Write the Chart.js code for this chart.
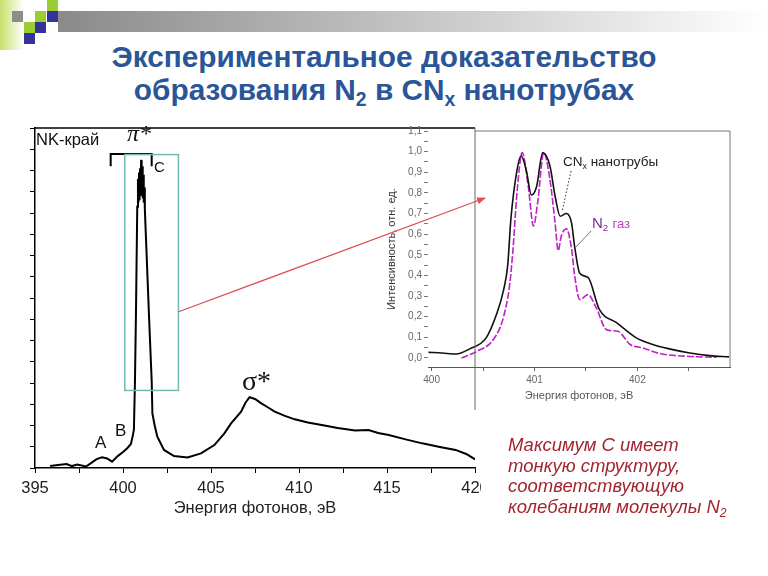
<!DOCTYPE html>
<html>
<head>
<meta charset="utf-8">
<script src="https://cdn.jsdelivr.net/npm/chart.js@4.4.1/dist/chart.umd.min.js"></script>
<style>
body { margin: 0; width: 768px; height: 576px; position: relative; overflow: hidden; background: #fff; font-family: "Liberation Sans", Arial, sans-serif; }
.abs { position: absolute; }
.lbl { position: absolute; line-height: 1; white-space: nowrap; color: #111; }
sub { font-size: 65%; line-height: 0; vertical-align: -0.3em; }
.sq { position: absolute; width: 11px; height: 11px; }
</style>
</head>
<body>

<!-- slide decoration -->
<div class="abs" style="left:0;top:0;width:24px;height:50px;background:linear-gradient(to right,#c6e06a,rgba(255,255,255,0));"></div>
<div class="abs" style="left:58px;top:11px;width:710px;height:21px;background:linear-gradient(to right,#8a8a8a,#ffffff);"></div>
<div class="sq" style="left:47px;top:0;background:#9acd32;"></div>
<div class="sq" style="left:12px;top:11px;background:#8c8c8c;"></div>
<div class="sq" style="left:35px;top:11px;background:#9acd32;"></div>
<div class="sq" style="left:47px;top:11px;background:#333399;"></div>
<div class="sq" style="left:24px;top:22px;background:#9acd32;"></div>
<div class="sq" style="left:35px;top:22px;background:#333399;"></div>
<div class="sq" style="left:24px;top:33px;background:#333399;"></div>

<div class="abs" style="left:0;top:40px;width:768px;text-align:center;font-weight:bold;font-size:29.8px;line-height:33px;color:#2a5699;">
Экспериментальное доказательство<br>образования N<sub>2</sub> в CN<sub>x</sub> нанотрубах</div>

<div class="abs" style="left:0;top:120px;width:481px;height:410px;overflow:hidden;">
  <canvas id="mainChart" width="500" height="410"></canvas>
</div>
<canvas id="insetChart" class="abs" style="left:380px;top:120px;" width="360" height="290"></canvas>

<svg class="abs" style="left:0;top:0;" width="768" height="576">
  <defs>
    <marker id="ah" markerWidth="9" markerHeight="7" refX="8" refY="3.5" orient="auto" markerUnits="userSpaceOnUse">
      <path d="M0,0 L9,3.5 L0,7 Z" fill="#e05050"/>
    </marker>
  </defs>
  <line x1="475" y1="128" x2="475" y2="410" stroke="#666" stroke-width="1"/>
  <polyline points="475,131 730,131 730,367" fill="none" stroke="#777" stroke-width="1"/>
  <line x1="571" y1="171" x2="562" y2="212" stroke="#333" stroke-width="1" stroke-dasharray="1.5 2"/>
  <line x1="591" y1="231" x2="575" y2="248" stroke="#777" stroke-width="1"/>
  <line x1="178" y1="312" x2="485" y2="198" stroke="#e05050" stroke-width="1.3" marker-end="url(#ah)"/>
</svg>

<!-- labels on the main spectrum -->
<div class="lbl" style="left:36px;top:131px;font-size:16.5px;">NK-край</div>
<div class="lbl" style="left:127px;top:121px;font-size:24px;font-family:'Liberation Serif',serif;font-style:italic;">π*</div>
<div class="lbl" style="left:154px;top:159px;font-size:15px;">C</div>
<div class="lbl" style="left:95px;top:434px;font-size:17px;">A</div>
<div class="lbl" style="left:115px;top:422px;font-size:17px;">B</div>
<div class="lbl" style="left:242px;top:367px;font-size:28px;font-family:'Liberation Serif',serif;">σ*</div>

<!-- labels on the inset -->
<div class="lbl" style="left:563px;top:155px;font-size:13.5px;color:#222;">CN<sub>x</sub> нанотрубы</div>
<div class="lbl" style="left:592px;top:215px;font-size:15px;color:#7d2a8f;">N<sub>2</sub> <span style="font-size:13px;color:#b845b8;">газ</span></div>

<div class="abs" style="left:508px;top:435px;font-size:18.5px;line-height:20.5px;font-style:italic;color:#a3262e;">
Максимум С имеет<br>тонкую структуру,<br>соответствующую<br>колебаниям молекулы N<sub>2</sub></div>

<script>
// NK-edge spectrum (photon energy, eV / intensity, arb. units)
const mainEnergy = [395.86, 396.3, 396.8, 397.1, 397.4, 397.9, 398.2, 398.5, 398.81, 399.1,
    399.38, 399.7, 400.0, 400.24, 400.45, 400.55, 400.62, 400.68, 400.74, 400.81,
    400.85, 400.88, 400.91, 400.94, 400.97, 401.0, 401.03, 401.06, 401.09, 401.12,
    401.15, 401.18, 401.21, 401.24, 401.34, 401.48,
    401.63, 401.67, 401.8, 401.95, 402.33, 402.9, 403.67, 404.43, 405.19, 405.76,
    406.14, 406.71, 406.95, 407.19, 407.5, 407.86, 408.2, 408.62, 409.2, 409.76,
    410.5, 411.29, 412.2, 413.19, 413.95, 414.5, 415.1, 416.0, 417.0, 418.0,
    418.9, 419.5, 420.0];
const mainIntensity = [0.09, 0.14, 0.19, 0.09, 0.16, 0.07, 0.24, 0.42, 0.50, 0.45,
    0.30, 0.56, 0.75, 0.93, 1.13, 1.5, 1.8, 4.1, 7.5, 12.3,
    13.6, 12.5, 13.9, 12.6, 14.1, 12.8, 14.5, 12.9, 14.2, 12.7,
    13.8, 12.5, 13.2, 12.2, 10.1, 7.1,
    4.1, 2.57, 2.0, 1.47, 0.85, 0.56, 0.50, 0.69, 1.08, 1.63,
    2.10, 2.65, 3.06, 3.33, 3.25, 3.04, 2.87, 2.65, 2.45, 2.29,
    2.14, 2.02, 1.88, 1.76, 1.79, 1.65, 1.55, 1.36, 1.16, 0.99,
    0.85, 0.66, 0.41];

// inset: pi* peak, CNx nanotubes vs N2 gas
const cnxEnergy = [399.97, 400.1, 400.24, 400.37, 400.53, 400.63, 400.70, 400.74, 400.77, 400.83,
    400.87, 400.92, 400.97, 401.02, 401.08, 401.15, 401.20, 401.25, 401.31, 401.36,
    401.39, 401.44, 401.52, 401.63, 401.80, 401.99, 402.15, 402.31, 402.51, 402.70, 402.89];
const cnxIntensity = [0.027, 0.024, 0.019, 0.044, 0.097, 0.21, 0.33, 0.45, 0.67, 0.91,
    0.98, 0.91, 0.79, 0.83, 0.995, 0.93, 0.785, 0.687, 0.70, 0.655,
    0.54, 0.41, 0.39, 0.235, 0.17, 0.097, 0.065, 0.044, 0.024, 0.011, 0.005];
const n2Energy = [400.29, 400.44, 400.60, 400.70, 400.76, 400.79, 400.83, 400.88, 400.94, 400.99,
    401.03, 401.09, 401.15, 401.20, 401.23, 401.26, 401.31, 401.36, 401.39, 401.44,
    401.52, 401.60, 401.70, 401.81, 401.93, 402.05, 402.22, 402.48, 402.77];
const n2Intensity = [0.0, 0.032, 0.089, 0.20, 0.36, 0.52, 0.80, 0.995, 0.83, 0.64,
    0.75, 0.995, 0.865, 0.655, 0.52, 0.59, 0.626, 0.53, 0.40, 0.283,
    0.307, 0.243, 0.137, 0.129, 0.065, 0.049, 0.021, 0.008, 0.003];

const mainXTicks = [395, 400, 405, 410, 415, 420];
const insetXTicks = [400, 401, 402];

// where the pi* bracket and the C box sit, in data units
const piBracket = { x0: 399.3, x1: 401.63, y: 14.78, yEnd: 14.2 };
const cBox = { x0: 400.1, x1: 403.15, y0: 3.65, y1: 14.75 };

function toPoints(xs, ys) {
    return xs.map((x, i) => ({ x: x, y: ys[i] }));
}

function isNear(list, v) {
    return list.some(t => Math.abs(t - v) < 1e-6);
}

const mainMarks = {
    id: 'mainMarks',
    afterDraw(chart) {
        const { ctx, chartArea, scales: { x, y } } = chart;
        ctx.save();
        ctx.strokeStyle = '#000';
        ctx.lineWidth = 1.5;
        ctx.beginPath();
        ctx.moveTo(chartArea.left, chartArea.top);
        ctx.lineTo(chartArea.right, chartArea.top);
        ctx.stroke();

        ctx.lineWidth = 2;
        ctx.beginPath();
        ctx.moveTo(x.getPixelForValue(piBracket.x0), y.getPixelForValue(piBracket.yEnd));
        ctx.lineTo(x.getPixelForValue(piBracket.x0), y.getPixelForValue(piBracket.y));
        ctx.lineTo(x.getPixelForValue(piBracket.x1), y.getPixelForValue(piBracket.y));
        ctx.lineTo(x.getPixelForValue(piBracket.x1), y.getPixelForValue(piBracket.yEnd));
        ctx.stroke();

        ctx.strokeStyle = '#74b8b2';
        ctx.lineWidth = 1.5;
        const bx = x.getPixelForValue(cBox.x0), by = y.getPixelForValue(cBox.y1);
        ctx.strokeRect(bx, by, x.getPixelForValue(cBox.x1) - bx, y.getPixelForValue(cBox.y0) - by);
        ctx.restore();
    }
};

new Chart(document.getElementById('mainChart'), {
    type: 'line',
    data: {
        datasets: [{
            data: toPoints(mainEnergy, mainIntensity),
            borderColor: '#000',
            borderWidth: 2,
            pointRadius: 0,
            tension: 0
        }]
    },
    options: {
        responsive: false,
        animation: false,
        devicePixelRatio: 1,
        layout: { padding: { left: 0, top: 8, right: 25, bottom: 0 } },
        plugins: { legend: { display: false }, tooltip: { enabled: false } },
        scales: {
            x: {
                type: 'linear',
                min: 395,
                max: 420,
                afterFit: function (scale) { scale.height = 62; },
                ticks: {
                    stepSize: 2.5,
                    padding: 6,
                    autoSkip: false,
                    color: '#222',
                    font: { family: 'Liberation Sans', size: 16.5 },
                    maxRotation: 0,
                    callback: function (v) { return isNear(mainXTicks, v) ? String(Math.round(v)) : ''; }
                },
                grid: { drawOnChartArea: false, tickLength: 5, color: '#000' },
                border: { color: '#000', width: 1.5 },
                title: {
                    display: true,
                    text: 'Энергия фотонов, эВ',
                    color: '#222',
                    font: { family: 'Liberation Sans', size: 16.5 },
                    padding: { top: 0, bottom: 12 }
                }
            },
            y: {
                min: 0,
                max: 16,
                afterFit: function (scale) { scale.width = 35; },
                ticks: { stepSize: 1, display: false, autoSkip: false },
                grid: { drawOnChartArea: false, tickLength: 5, color: '#000' },
                border: { color: '#000', width: 1.5 }
            }
        }
    },
    plugins: [mainMarks]
});

function onStep(scale, step) {
    scale.ticks = scale.ticks.filter(t => {
        const k = t.value / step;
        return Math.abs(k - Math.round(k)) < 1e-6 && t.value > -1e-9 && t.value < scale.max + 1e-9;
    });
}

new Chart(document.getElementById('insetChart'), {
    type: 'line',
    data: {
        datasets: [{
            label: 'CNx нанотрубы',
            data: toPoints(cnxEnergy, cnxIntensity),
            borderColor: '#111',
            borderWidth: 1.6,
            pointRadius: 0,
            cubicInterpolationMode: 'monotone'
        }, {
            label: 'N2 газ',
            data: toPoints(n2Energy, n2Intensity),
            borderColor: '#c020c8',
            borderWidth: 1.6,
            borderDash: [7, 2],
            pointRadius: 0,
            cubicInterpolationMode: 'monotone'
        }]
    },
    options: {
        responsive: false,
        animation: false,
        devicePixelRatio: 1,
        layout: { padding: { left: 0, top: 11, right: 10, bottom: 0 } },
        plugins: { legend: { display: false }, tooltip: { enabled: false } },
        scales: {
            x: {
                type: 'linear',
                min: 399.965,
                max: 402.9,
                afterFit: function (scale) { scale.height = 43; },
                afterBuildTicks: function (scale) { onStep(scale, 0.5); },
                ticks: {
                    stepSize: 0.5,
                    includeBounds: false,
                    padding: 3,
                    autoSkip: false,
                    color: '#666',
                    maxRotation: 0,
                    font: { family: 'Liberation Sans', size: 10 },
                    callback: function (v) { return isNear(insetXTicks, v) ? String(Math.round(v)) : ''; }
                },
                grid: { drawOnChartArea: false, tickLength: 4, color: '#666' },
                border: { color: '#555', width: 1 },
                title: {
                    display: true,
                    text: 'Энергия фотонов, эВ',
                    color: '#555',
                    font: { family: 'Liberation Sans', size: 11 },
                    padding: { top: 0, bottom: 7 }
                }
            },
            y: {
                min: -0.044,
                max: 1.1,
                afterFit: function (scale) { scale.width = 48; },
                afterBuildTicks: function (scale) { onStep(scale, 0.05); },
                ticks: {
                    stepSize: 0.05,
                    includeBounds: false,
                    padding: 2,
                    autoSkip: false,
                    color: '#666',
                    font: { family: 'Liberation Sans', size: 10 },
                    callback: function (v) {
                        const r = Math.round(v * 10) / 10;
                        if (Math.abs(v - r) > 1e-6) return '';
                        return (Math.abs(r) < 1e-9 ? 0 : r).toFixed(1).replace('.', ',');
                    }
                },
                grid: { drawOnChartArea: false, tickLength: 4, color: '#777' },
                border: { display: false },
                title: {
                    display: true,
                    text: 'Интенсивность, отн. ед.',
                    color: '#333',
                    font: { family: 'Liberation Sans', size: 11 },
                    padding: { top: 5, bottom: 0 }
                }
            }
        }
    }
});
</script>
</body>
</html>
